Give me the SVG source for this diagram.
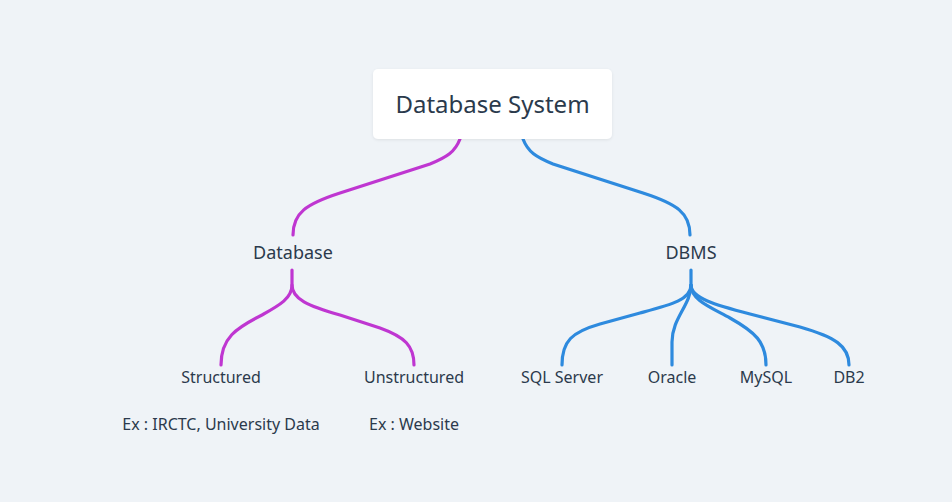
<svg xmlns="http://www.w3.org/2000/svg" width="952" height="502" viewBox="0 0 952 502">
<defs>
<filter id="sh" x="-10%" y="-20%" width="120%" height="140%">
<feDropShadow dx="0" dy="1" stdDeviation="1.5" flood-color="#000" flood-opacity="0.08"/>
</filter>
<style>
text{font-family:"Noto Sans","Liberation Sans",sans-serif;fill:#2b3a4c;text-anchor:middle}
.c{fill:none;stroke-width:3.2;stroke-linecap:round}
.m{stroke:#bf36d1}
.b{stroke:#2e8ade}
.t1{font-size:24px}
.t2{font-size:18px}
.t3{font-size:16px}
</style>
</defs>
<rect width="952" height="502" fill="#eff3f7"/>
<g id="connectors">
<path class="c m" d="M460,139 C455,152 447,157 430,164 L340,193 C306,204 293,213 293,235"/>
<path class="c b" d="M523,139 C528,152 536,157 553,164 L643,193 C677,204 690,213 690,235"/>
<path class="c m" d="M292,270 V285 C292,298 280,305 262,315 C236,328 221,338 221,365"/>
<path class="c m" d="M292,285 C292,299 308,306 340,315 L380,328 C405,337 414,346 414,365"/>
<path class="c b" d="M691,270 V285 C691,300 670,305 640,313 L600,324 C572,332 562,341 562,365"/>
<path class="c b" d="M691,285 C691,305 672,318 672,342 V365"/>
<path class="c b" d="M691,285 C691,300 710,307 730,318 C755,332 766,342 766,365"/>
<path class="c b" d="M691,285 C691,298 715,305 750,314 L800,327 C835,337 849,346 849,365"/>
</g>
<g id="root">
<rect x="373" y="69" width="239" height="70" rx="5" fill="#ffffff" filter="url(#sh)"/>
<text class="t1" x="492.5" y="113">Database System</text>
</g>
<g id="database"><text class="t2" x="293" y="259">Database</text></g>
<g id="dbms"><text class="t2" x="691" y="259">DBMS</text></g>
<g id="structured">
<text class="t3" x="221" y="383">Structured</text>
<text class="t3" x="221" y="430">Ex : IRCTC, University Data</text>
</g>
<g id="unstructured">
<text class="t3" x="414" y="383">Unstructured</text>
<text class="t3" x="414" y="430">Ex : Website</text>
</g>
<g id="sqlserver"><text class="t3" x="562" y="383">SQL Server</text></g>
<g id="oracle"><text class="t3" x="672" y="383">Oracle</text></g>
<g id="mysql"><text class="t3" x="766" y="383">MySQL</text></g>
<g id="db2"><text class="t3" x="849" y="383">DB2</text></g>
</svg>
